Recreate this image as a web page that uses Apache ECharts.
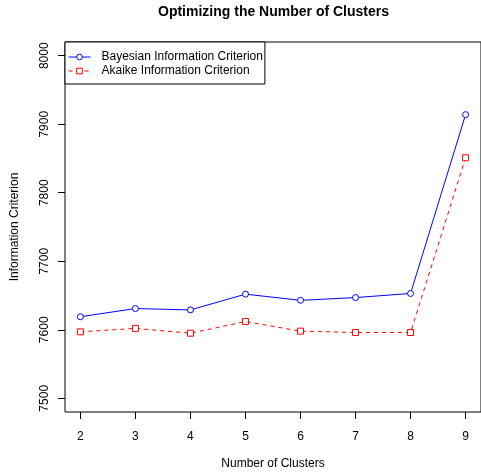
<!DOCTYPE html>
<html>
<head>
<meta charset="utf-8">
<script src="https://cdn.jsdelivr.net/npm/echarts@6/dist/echarts.min.js"></script>
<style>html,body{margin:0;padding:0;background:#fff}#c{width:481px;height:475px}</style>
</head>
<body>
<div id="c"></div>
<script>
var clusters = [2, 3, 4, 5, 6, 7, 8, 9];
var bic = [7619, 7631, 7629, 7652, 7643, 7647, 7653, 7914];
var aic = [7597, 7602, 7595, 7612, 7598, 7596, 7596, 7851];
var xTicks = [2, 3, 4, 5, 6, 7, 8, 9];
var yTicks = [7500, 7600, 7700, 7800, 7900, 8000];

var FONT = 'Liberation Sans, Arial, Helvetica, sans-serif';
function pairs(xs, ys) { return xs.map(function (x, i) { return [x, ys[i]]; }); }

var chart = echarts.init(document.getElementById('c'), null, { renderer: 'canvas' });
chart.setOption({
  animation: false,
  backgroundColor: '#fff',
  title: {
    text: 'Optimizing the Number of Clusters',
    left: 153, top: 0,
    textStyle: { fontFamily: FONT, fontSize: 14, fontWeight: 'bold', color: '#000' }
  },
  legend: {
    left: 65, top: 42, orient: 'vertical',
    backgroundColor: '#fff', borderColor: '#000', borderWidth: 1, borderRadius: 0,
    padding: [9, 2, 7, 3], itemGap: 2, itemWidth: 22, itemHeight: 7,
    lineStyle: { width: 1 },
    itemStyle: { borderWidth: 1 },
    textStyle: { fontFamily: FONT, fontSize: 12, color: '#000', padding: [0, 0, 0, 6] },
    data: ['Bayesian Information Criterion', 'Akaike Information Criterion']
  },
  grid: { left: 65, top: 42, width: 419, height: 372, show: true, borderColor: '#000', borderWidth: 1, containLabel: false },
  xAxis: {
    type: 'value', min: 1.72, max: 9.28,
    name: 'Number of Clusters', nameLocation: 'middle', nameGap: 46,
    nameTextStyle: { fontFamily: FONT, fontSize: 12, color: '#000' },
    axisLine: { show: false },
    splitLine: { show: false },
    axisTick: { show: true, inside: false, length: 7, customValues: xTicks, lineStyle: { color: '#000' } },
    axisLabel: { customValues: xTicks, margin: 19, fontFamily: FONT, fontSize: 12, color: '#000' }
  },
  yAxis: {
    type: 'value', min: 7480, max: 8020,
    name: 'Information Criterion', nameLocation: 'middle', nameGap: 44, nameRotate: 90,
    nameTextStyle: { fontFamily: FONT, fontSize: 12, color: '#000' },
    axisLine: { show: false },
    splitLine: { show: false },
    axisTick: { show: true, inside: false, length: 7, customValues: yTicks, lineStyle: { color: '#000' } },
    axisLabel: { customValues: yTicks, rotate: 90, margin: 14, fontFamily: FONT, fontSize: 12, color: '#000',
      formatter: function (v) { return String(v); } }
  },
  series: [
    {
      name: 'Bayesian Information Criterion', type: 'line',
      data: pairs(clusters, bic),
      symbol: 'circle', symbolSize: 6, showAllSymbol: true,
      lineStyle: { color: '#0000FF', width: 1 },
      itemStyle: { color: '#fff', borderColor: '#0000FF', borderWidth: 1 }
    },
    {
      name: 'Akaike Information Criterion', type: 'line',
      data: pairs(clusters, aic),
      symbol: 'rect', symbolSize: 6, showAllSymbol: true,
      lineStyle: { color: '#FF0000', width: 1, type: [4, 4] },
      itemStyle: { color: '#fff', borderColor: '#FF0000', borderWidth: 1 }
    }
  ]
});
</script>
</body>
</html>
